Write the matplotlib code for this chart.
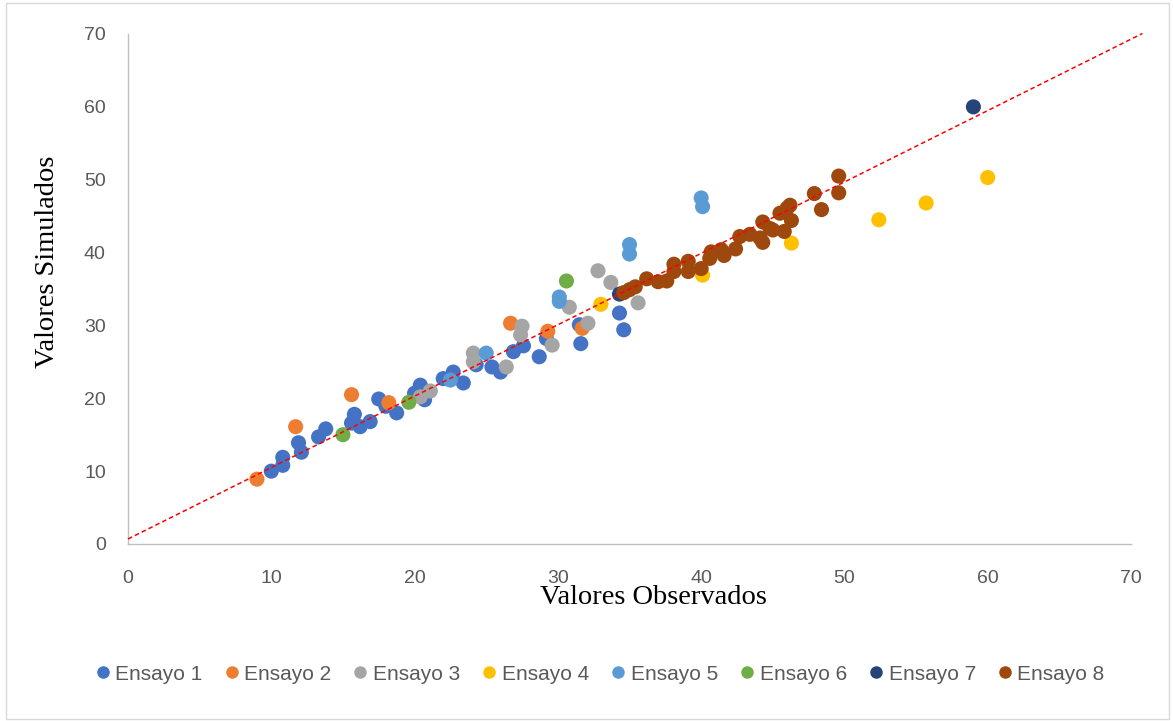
import matplotlib
matplotlib.use("Agg")
import matplotlib.pyplot as plt
from matplotlib.patches import Rectangle
from matplotlib.lines import Line2D

series_names = ["Ensayo 1", "Ensayo 2", "Ensayo 3", "Ensayo 4",
                "Ensayo 5", "Ensayo 6", "Ensayo 7", "Ensayo 8"]
colors = ["#4472C4", "#ED7D31", "#A5A5A5", "#FFC000",
          "#5B9BD5", "#70AD47", "#264478", "#9E480E"]

e1_x = [10.0, 10.8, 10.8, 11.9, 12.1, 13.3, 13.8, 15.8, 15.6, 16.2, 16.9, 17.5, 18.0, 18.75,
        20.0, 20.4, 20.7, 22.0, 22.7, 23.4, 24.3, 25.4, 26.0, 26.9, 27.6, 28.7, 29.2,
        31.5, 31.6, 34.3, 34.6]
e1_y = [10.0, 10.8, 11.9, 13.9, 12.6, 14.7, 15.8, 17.8, 16.6, 16.1, 16.8, 19.9, 18.9, 18.0,
        20.7, 21.8, 19.8, 22.7, 23.6, 22.1, 24.6, 24.3, 23.6, 26.4, 27.2, 25.7, 28.2,
        30.1, 27.5, 31.7, 29.4]
e2_x = [9.0, 11.7, 15.6, 18.2, 26.7, 29.3, 31.7]
e2_y = [8.9, 16.1, 20.5, 19.4, 30.3, 29.2, 29.6]
e3_x = [20.4, 21.1, 24.1, 24.1, 26.4, 27.5, 27.4, 29.6, 30.8, 32.1, 32.8, 33.7, 35.6]
e3_y = [20.2, 21.0, 26.2, 25.0, 24.3, 29.9, 28.7, 27.3, 32.5, 30.3, 37.5, 35.9, 33.1]
e4_x = [33.0, 40.1, 46.3, 52.4, 55.7, 60.0]
e4_y = [32.9, 36.9, 41.3, 44.5, 46.8, 50.3]
e5_x = [22.5, 25.0, 30.1, 30.1, 35.0, 35.0, 40.0, 40.1]
e5_y = [22.5, 26.2, 33.9, 33.3, 41.1, 39.8, 47.5, 46.3]
e6_x = [15.0, 19.6, 30.6]
e6_y = [15.0, 19.45, 36.1]
e7_x = [34.3, 59.0]
e7_y = [34.3, 60.0]
e8_x = [34.6, 35.0, 35.4, 36.2, 37.0, 37.6, 38.1, 38.1, 39.1, 39.1, 40.0, 40.6, 40.7,
        41.4, 41.6, 42.4, 42.7, 43.4, 44.1, 44.3, 44.3, 44.8, 45.0, 45.5, 45.8, 46.0,
        46.2, 46.3, 47.9, 48.4, 49.6, 49.6]
e8_y = [34.5, 34.9, 35.3, 36.4, 36.0, 36.1, 38.4, 37.4, 38.8, 37.4, 37.8, 39.2, 40.1,
        40.4, 39.6, 40.5, 42.2, 42.5, 42.0, 41.4, 44.2, 43.3, 43.1, 45.4, 42.9, 46.1,
        46.5, 44.4, 48.1, 45.9, 50.5, 48.2]

xs = [e1_x, e2_x, e3_x, e4_x, e5_x, e6_x, e7_x, e8_x]
ys = [e1_y, e2_y, e3_y, e4_y, e5_y, e6_y, e7_y, e8_y]

trend_slope = 0.98
trend_intercept = 0.69
trend_x = [0.0, 70.8]

ticks = [0, 10, 20, 30, 40, 50, 60, 70]

W, H = 1173, 721
fig = plt.figure(figsize=(W / 100, H / 100), dpi=100)
ax = fig.add_axes([128 / W, 1 - 544 / H, (1131 - 128) / W, (544 - 34) / H])

for xv, yv, c in zip(xs, ys, colors):
    ax.scatter(xv, yv, s=118, color=c, edgecolors="none", zorder=3)

ax.plot(trend_x, [trend_slope * v + trend_intercept for v in trend_x],
        linestyle=(0, (3, 2)), color="#FF0000", linewidth=1.1, zorder=4, clip_on=False)

ax.set_xlim(0, 70)
ax.set_ylim(0, 70)
ax.set_xticks(ticks)
ax.set_yticks(ticks)
ax.tick_params(length=0, labelsize=14, labelcolor="#595959")
ax.tick_params(axis="x", pad=19)
ax.tick_params(axis="y", pad=16)
for lbl in ax.get_xticklabels() + ax.get_yticklabels():
    lbl.set_family("Liberation Sans")
for s in ["top", "right"]:
    ax.spines[s].set_visible(False)
for s in ["left", "bottom"]:
    ax.spines[s].set_color("#BFBFBF")
    ax.spines[s].set_linewidth(1.0)

fig.text(653 / W, 1 - 598 / H, "Valores Observados", ha="center", va="center",
         fontsize=20.5, family="Liberation Serif")
fig.text(48 / W, 1 - 262 / H, "Valores Simulados", ha="center", va="center",
         fontsize=20.5, family="Liberation Serif", rotation=90)

handles = [Line2D([], [], marker="o", linestyle="none", markersize=9,
                  markerfacecolor=c, markeredgecolor="none") for c in colors]
fig.legend(handles, series_names, loc="center", ncol=8,
           bbox_to_anchor=(599 / W, 1 - 674 / H), frameon=False,
           prop={"family": "Liberation Sans", "size": 15}, labelcolor="#595959",
           handletextpad=0.15, columnspacing=0.95, handlelength=0.9)

fig.patches.append(Rectangle((6 / W, 2 / H), (W - 10) / W, (H - 5) / H,
                             transform=fig.transFigure, fill=False,
                             edgecolor="#D9D9D9", linewidth=1.0))

fig.savefig("out.png", dpi=100)
